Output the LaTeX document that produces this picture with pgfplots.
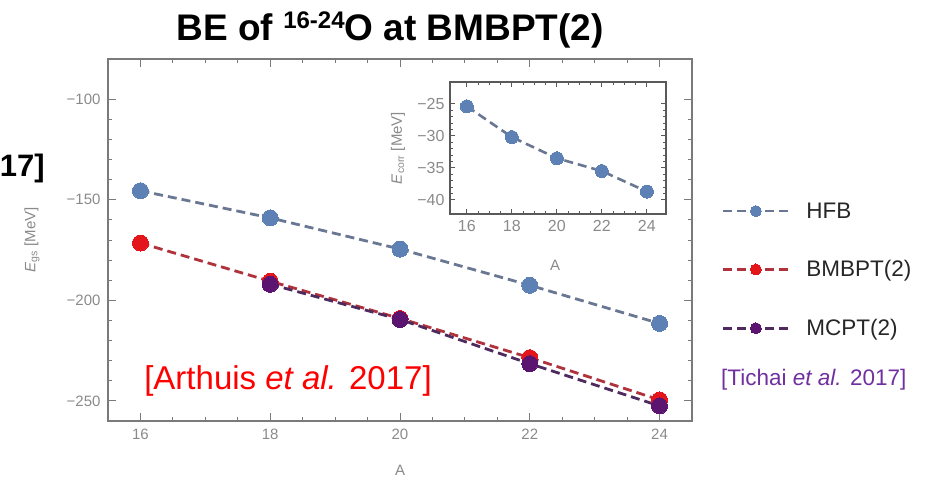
\documentclass[border=0pt]{standalone}
\usepackage{pgfplots}
\pgfplotsset{compat=1.18}
\usepackage{fontspec}
\setmainfont{Liberation Sans}
\definecolor{hfb}{HTML}{5E81B5}
\definecolor{hfbline}{HTML}{6A7793}
\definecolor{bm}{HTML}{E3161B}
\definecolor{bmline}{HTML}{B0323C}
\definecolor{mc}{HTML}{5B1570}
\definecolor{mcline}{HTML}{4E2A5E}
\definecolor{tickgray}{HTML}{8A8A8A}
\definecolor{framegray}{HTML}{7A7A7A}
\definecolor{tpurple}{HTML}{7030A0}
\begin{document}
\begin{tikzpicture}
\path[use as bounding box] (0pt,0pt) rectangle (942pt,-483pt);
\begin{axis}[
  at={(108pt,-421pt)}, anchor=south west,
  scale only axis, width=584pt, height=362pt,
  xmin=15.5, xmax=24.5, ymin=-260, ymax=-80,
  xtick={16,18,20,22,24},
  ytick={-250,-200,-150,-100},
  yticklabels={−250,−200,−150,−100},
  minor x tick num=3, minor y tick num=4,
  tick align=inside,
  axis line style={framegray, line width=1.2pt},
  major tick length=8pt, minor tick length=4pt,
  every tick/.style={framegray, line width=1pt},
  tick label style={tickgray, font=\fontsize{15}{15}\selectfont},
  /pgf/number format/assume math mode=true,
  xticklabel style={yshift=-4pt},
  yticklabel style={xshift=-4pt},
  legend style={at={(1.045,0.615)}, anchor=north west, draw=none, fill=none,
    font=\fontsize{22.5}{22.5}\selectfont, text=black!85, row sep=37pt},
  legend cell align=left,
  legend image code/.code={\draw[mark repeat=2,mark phase=2,#1,mark size=5.5pt] plot coordinates {(0pt,0pt) (33pt,0pt) (66pt,0pt)}; \path (80pt,0pt);},
]
\addplot[hfbline, line width=2.8pt, dash pattern=on 9pt off 5pt, mark=*, mark size=8pt, mark options={hfb, solid, line width=0pt}]
  coordinates {(16,-145.5) (18,-159) (20,-174.5) (22,-192.5) (24,-211.5)};
\addlegendentry{HFB}
\addplot[bmline, line width=2.8pt, dash pattern=on 9pt off 5pt, mark=*, mark size=8pt, mark options={bm, solid, line width=0pt}]
  coordinates {(16,-171.5) (18,-190.5) (20,-209) (22,-228.5) (24,-249.5)};
\addlegendentry{BMBPT(2)}
\addplot[mcline, line width=2.8pt, dash pattern=on 9pt off 5pt, mark=*, mark size=8pt, mark options={mc, solid, line width=0pt}]
  coordinates {(18,-192) (20,-209.5) (22,-231.5) (24,-252.5)};
\addlegendentry{MCPT(2)}
\end{axis}
\begin{axis}[
  at={(450pt,-214pt)}, anchor=south west,
  scale only axis, width=216pt, height=132pt,
  xmin=15.25, xmax=24.85, ymin=-42.2, ymax=-21.6,
  xtick={16,18,20,22,24},
  ytick={-40,-35,-30,-25},
  yticklabels={−40,−35,−30,−25},
  minor x tick num=3, minor y tick num=4,
  tick align=inside,
  axis background/.style={fill=white},
  axis line style={black!65, line width=1.4pt},
  major tick length=5pt, minor tick length=3pt,
  every tick/.style={black!65, line width=0.9pt},
  tick label style={tickgray, font=\fontsize{16}{16}\selectfont},
  /pgf/number format/assume math mode=true,
  xticklabel style={yshift=-3pt},
  yticklabel style={xshift=-2pt},
]
\addplot[hfbline, line width=2.6pt, dash pattern=on 9pt off 5pt, mark=*, mark size=6.5pt, mark options={hfb, solid, line width=0pt}]
  coordinates {(16,-25.4) (18,-30.2) (20,-33.5) (22,-35.5) (24,-38.7)};
\end{axis}
\node[font=\fontsize{37}{37}\selectfont\bfseries] at (390pt,-30pt) {BE of \raisebox{12pt}{\fontsize{24}{24}\selectfont\bfseries 16-24}O at BMBPT(2)};
\node[font=\fontsize{31}{31}\selectfont\bfseries, anchor=east, inner sep=0pt] at (45pt,-168pt) {17]};
\node[font=\fontsize{15}{15}\selectfont, text=tickgray, rotate=90] at (32pt,-240pt) {\textit{E}\textsubscript{gs} [MeV]};
\node[font=\fontsize{15}{15}\selectfont, text=tickgray] at (400pt,-470pt) {A};
\node[font=\fontsize{15}{15}\selectfont, text=tickgray, rotate=90] at (398pt,-148pt) {\textit{E}\textsubscript{corr} [MeV]};
\node[font=\fontsize{15}{15}\selectfont, text=tickgray] at (555pt,-265pt) {A};
\node[font=\fontsize{33}{33}\selectfont, text=red] at (288pt,-381pt) {[Arthuis \textit{et al.} 2017]};
\node[font=\fontsize{22.5}{22.5}\selectfont, text=tpurple, anchor=west, inner sep=0pt] at (721pt,-380pt) {[Tichai \textit{et al.} 2017]};
\end{tikzpicture}
\end{document}
